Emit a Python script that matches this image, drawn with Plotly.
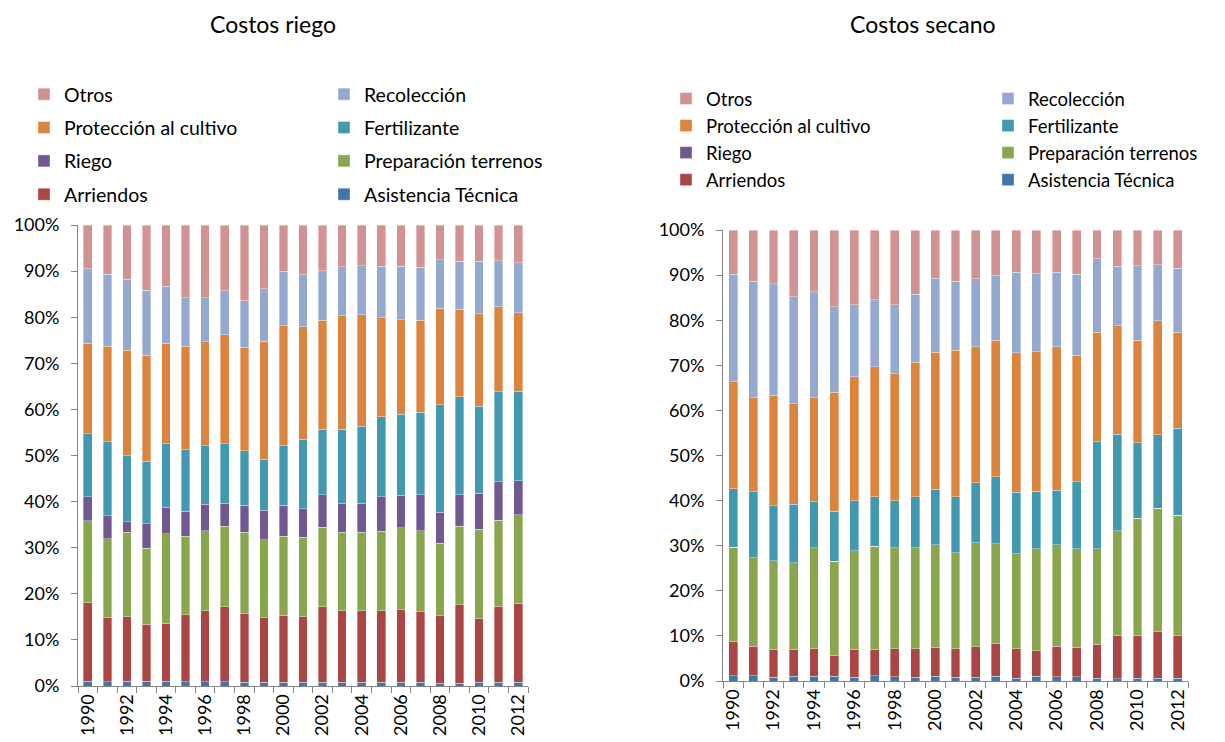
import plotly.graph_objects as go

years = [str(y) for y in range(1990, 2013)]
tick_text = [y if int(y) % 2 == 0 else "" for y in years]

# Costos riego (% of total cost per item)
riego_asistencia = [1.0, 0.9, 1.0, 1.0, 1.0, 0.9, 0.9, 0.9, 0.8, 0.8, 0.8, 0.8, 0.8, 0.8, 0.8, 0.8, 0.8, 0.8, 0.6, 0.6, 0.8, 0.8, 0.8]
riego_arriendos = [17.1, 13.9, 14.0, 12.4, 12.6, 14.6, 15.4, 16.3, 14.9, 14.0, 14.5, 14.2, 16.4, 15.5, 15.5, 15.5, 15.7, 15.3, 14.6, 17.0, 13.8, 16.5, 17.1]
riego_preparacion = [17.8, 17.1, 18.3, 16.5, 19.4, 17.0, 17.4, 17.4, 17.6, 16.9, 17.2, 17.3, 17.2, 17.0, 17.0, 17.3, 17.8, 17.6, 15.8, 17.0, 19.4, 18.7, 19.3]
riego_riego = [5.2, 5.0, 2.3, 5.3, 5.8, 5.4, 5.7, 5.0, 5.9, 6.4, 6.7, 6.2, 7.1, 6.3, 6.3, 7.5, 7.1, 7.8, 6.7, 6.9, 7.8, 8.3, 7.3]
riego_fertilizante = [13.6, 16.1, 14.3, 13.5, 13.8, 13.4, 12.7, 13.0, 11.8, 11.1, 12.9, 15.0, 14.2, 16.1, 16.7, 17.3, 17.6, 17.9, 23.3, 21.2, 18.9, 19.5, 19.4]
riego_proteccion = [19.6, 20.7, 22.9, 23.0, 21.7, 22.4, 22.6, 23.6, 22.5, 25.6, 26.1, 24.4, 23.6, 24.6, 24.2, 21.5, 20.5, 19.9, 20.9, 19.0, 20.1, 18.5, 17.1]
riego_recoleccion = [16.2, 15.6, 15.4, 14.1, 12.4, 10.5, 9.5, 9.5, 10.1, 11.4, 11.8, 11.3, 10.8, 10.6, 10.7, 11.1, 11.5, 11.5, 10.6, 10.4, 11.3, 10.0, 10.8]
riego_otros = [9.5, 10.7, 11.8, 14.2, 13.3, 15.8, 15.8, 14.3, 16.4, 13.8, 10.0, 10.8, 9.9, 9.1, 8.8, 9.0, 9.0, 9.2, 7.5, 7.9, 7.9, 7.7, 8.2]

# Costos secano
secano_asistencia = [1.2, 1.2, 0.8, 1.0, 1.0, 1.0, 0.8, 1.2, 0.9, 0.8, 1.0, 0.8, 0.8, 1.1, 0.6, 1.0, 0.9, 0.9, 0.6, 0.5, 0.6, 0.6, 0.6]
secano_arriendos = [7.6, 6.5, 6.2, 6.0, 6.2, 4.7, 6.2, 5.8, 6.3, 6.4, 6.5, 6.4, 6.8, 7.3, 6.5, 5.7, 6.8, 6.6, 7.6, 9.6, 9.6, 10.3, 9.4]
secano_preparacion = [20.9, 19.6, 19.7, 19.2, 22.3, 20.9, 21.9, 22.9, 22.3, 22.4, 22.7, 21.2, 23.0, 22.0, 21.1, 22.6, 22.5, 21.8, 21.1, 23.2, 25.9, 27.4, 26.7]
secano_riego = [0.0] * 23
secano_fertilizante = [12.9, 14.7, 12.2, 13.0, 10.3, 11.0, 11.1, 11.0, 10.5, 11.2, 12.3, 12.5, 13.4, 14.9, 13.7, 12.8, 12.1, 14.9, 23.7, 21.4, 16.7, 16.3, 19.3]
secano_proteccion = [23.8, 20.8, 24.5, 22.3, 23.0, 26.4, 27.5, 28.8, 28.1, 29.9, 30.4, 32.4, 30.1, 30.3, 30.9, 30.9, 31.8, 28.0, 24.3, 24.1, 22.8, 25.3, 21.3]
secano_recoleccion = [23.8, 25.8, 24.7, 23.7, 23.5, 19.0, 15.9, 14.8, 15.3, 15.1, 16.4, 15.3, 15.1, 14.3, 17.8, 17.3, 16.5, 18.0, 16.3, 13.2, 16.5, 12.4, 14.2]
secano_otros = [9.8, 11.4, 11.9, 14.8, 13.7, 17.0, 16.6, 15.5, 16.6, 14.2, 10.7, 11.4, 10.8, 10.1, 9.4, 9.7, 9.4, 9.8, 6.4, 8.0, 7.9, 7.7, 8.5]

names = ["Asistencia Técnica", "Arriendos", "Preparación terrenos", "Riego",
         "Fertilizante", "Protección al cultivo", "Recolección", "Otros"]
colors = ["#4572A7", "#AA4643", "#89A54E", "#71588F",
          "#4198AF", "#DB843D", "#93A9CF", "#D19392"]
# legend column (0 = left, 1 = right) and row in the Excel-style legend
leg_col = [1, 0, 1, 0, 1, 0, 1, 0]
leg_row = [4, 4, 3, 3, 2, 2, 1, 1]

riego_series = [riego_asistencia, riego_arriendos, riego_preparacion, riego_riego,
                riego_fertilizante, riego_proteccion, riego_recoleccion, riego_otros]
secano_series = [secano_asistencia, secano_arriendos, secano_preparacion, secano_riego,
                 secano_fertilizante, secano_proteccion, secano_recoleccion, secano_otros]

FONT = "Lato"
# the page body has an 8px margin, so the figure is a bit smaller than the window
OFF = 8
W, H = 1225 - OFF, 742 - OFF


def px(x):
    return (x - OFF) / W


def py(y):
    return (H - (y - OFF)) / H


fig = go.Figure()

for chart, series in enumerate([riego_series, secano_series]):
    xa = "x" if chart == 0 else "x2"
    ya = "y" if chart == 0 else "y2"
    for i, vals in enumerate(series):
        leg_id = 1 + chart * 2 + leg_col[i]
        fig.add_trace(go.Bar(
            x=years, y=vals, name=names[i],
            xaxis=xa, yaxis=ya,
            marker=dict(color=colors[i], line=dict(width=0.6, color="rgba(255,255,255,0.6)")),
            legend="legend" if leg_id == 1 else "legend%d" % leg_id,
            legendgroup="c%d_%d" % (chart, i),
            legendrank=leg_row[i],
            hovertemplate="%{x}: %{y:.1f}%<extra>" + names[i] + "</extra>",
        ))

axis_line = "#868686"
xcommon = dict(type="category", tickmode="array", tickvals=years, ticktext=tick_text,
               tickangle=-90, tickson="boundaries", ticks="outside", ticklen=6,
               tickcolor=axis_line, showline=True, linecolor=axis_line, linewidth=1,
               showgrid=False, tickfont=dict(family=FONT, size=18, color="#000"),
               automargin=False, fixedrange=True)
ycommon = dict(range=[0, 100], dtick=10, ticksuffix="%", ticks="outside", ticklen=6,
               tickcolor=axis_line, showline=True, linecolor=axis_line, linewidth=1,
               showgrid=False, zeroline=False, tickfont=dict(family=FONT, size=18, color="#000"),
               ticklabelstandoff=8, automargin=False, fixedrange=True)

leg_common = dict(orientation="v", xanchor="left", yanchor="top", bgcolor="rgba(0,0,0,0)",
                  traceorder="grouped", itemclick=False, itemdoubleclick=False)
leg_font_l = dict(family=FONT, size=19.5, color="#000")
leg_font_r = dict(family=FONT, size=18.5, color="#000")

fig.update_layout(
    width=W, height=H,
    margin=dict(l=0, r=0, t=0, b=0, autoexpand=False),
    paper_bgcolor="white", plot_bgcolor="white",
    barmode="stack", bargap=0.56,
    font=dict(family=FONT, size=18, color="#000"),
    xaxis=dict(domain=[px(78), px(528)], anchor="y", **xcommon),
    yaxis=dict(domain=[py(686), py(225)], anchor="x", **ycommon),
    xaxis2=dict(domain=[px(723), px(1188)], anchor="y2", **xcommon),
    yaxis2=dict(domain=[py(681), py(230)], anchor="x2", **ycommon),
    legend=dict(x=px(24), y=py(75), tracegroupgap=5, font=leg_font_l, **leg_common),
    legend2=dict(x=px(324), y=py(75), tracegroupgap=5, font=leg_font_l, **leg_common),
    legend3=dict(x=px(666), y=py(80), tracegroupgap=0, font=leg_font_r, **leg_common),
    legend4=dict(x=px(988), y=py(80), tracegroupgap=0, font=leg_font_r, **leg_common),
    annotations=[
        dict(text="Costos riego", x=px(273), y=1, xref="paper", yref="paper",
             xanchor="center", yanchor="top", showarrow=False,
             font=dict(family=FONT, size=23, color="#000")),
        dict(text="Costos secano", x=px(923), y=1, xref="paper", yref="paper",
             xanchor="center", yanchor="top", showarrow=False,
             font=dict(family=FONT, size=23, color="#000")),
    ],
)

fig.write_html("out.html")
